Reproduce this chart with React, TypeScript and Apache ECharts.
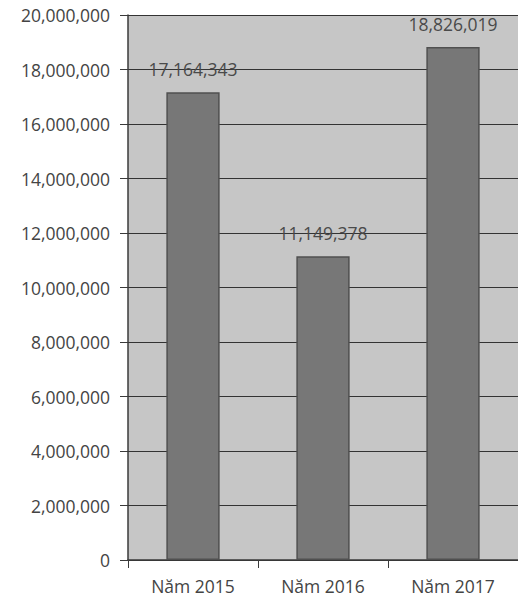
import React, { useEffect, useRef } from "react";
import * as echarts from "echarts";

const categories = ["Năm 2015", "Năm 2016", "Năm 2017"];
const values = [17164343, 11149378, 18826019];
const yTicks = { min: 0, max: 20000000, interval: 2000000 };

const fmt = (v: number) => v.toLocaleString("en-US");
const FONT = "'Open Sans', Lato, sans-serif";

export default function App() {
  const ref = useRef<HTMLDivElement>(null);
  useEffect(() => {
    if (!ref.current) return;
    const chart = echarts.init(ref.current, null, { renderer: "svg" });
    chart.setOption({
      animation: false,
      backgroundColor: "#ffffff",
      textStyle: { fontFamily: FONT },
      grid: {
        left: 128,
        right: 0,
        top: 15,
        bottom: 40,
        show: true,
        backgroundColor: "#c6c6c6",
        borderWidth: 0,
      },
      xAxis: {
        type: "category",
        data: categories,
        axisLine: { lineStyle: { color: "#3a3a3a", width: 1.5 } },
        axisTick: { show: true, length: 8, lineStyle: { color: "#3a3a3a" } },
        axisLabel: { color: "#444", fontSize: 17.5, margin: 17, fontFamily: FONT },
      },
      yAxis: {
        type: "value",
        min: yTicks.min,
        max: yTicks.max,
        interval: yTicks.interval,
        axisLine: { show: true, lineStyle: { color: "#3a3a3a", width: 1.5 } },
        axisTick: { show: true, length: 8, lineStyle: { color: "#3a3a3a" } },
        axisLabel: {
          color: "#444",
          fontSize: 17.5,
          margin: 18,
          formatter: (v: number) => fmt(v),
          fontFamily: FONT,
        },
        splitLine: { show: true, lineStyle: { color: "#333", width: 1.2 } },
      },
      series: [
        {
          type: "bar",
          data: values,
          barWidth: "41%",
          itemStyle: { color: "#777777", borderColor: "#505050", borderWidth: 1.5 },
          label: {
            show: true,
            position: "top",
            distance: 14,
            color: "#4a4a4a",
            fontSize: 17.5,
            formatter: (p: any) => fmt(p.value),
            fontFamily: FONT,
          },
        },
      ],
    });
    return () => chart.dispose();
  }, []);
  return (
    <div
      ref={ref}
      style={{ position: "fixed", left: 0, top: 0, width: 518, height: 600 }}
    />
  );
}
